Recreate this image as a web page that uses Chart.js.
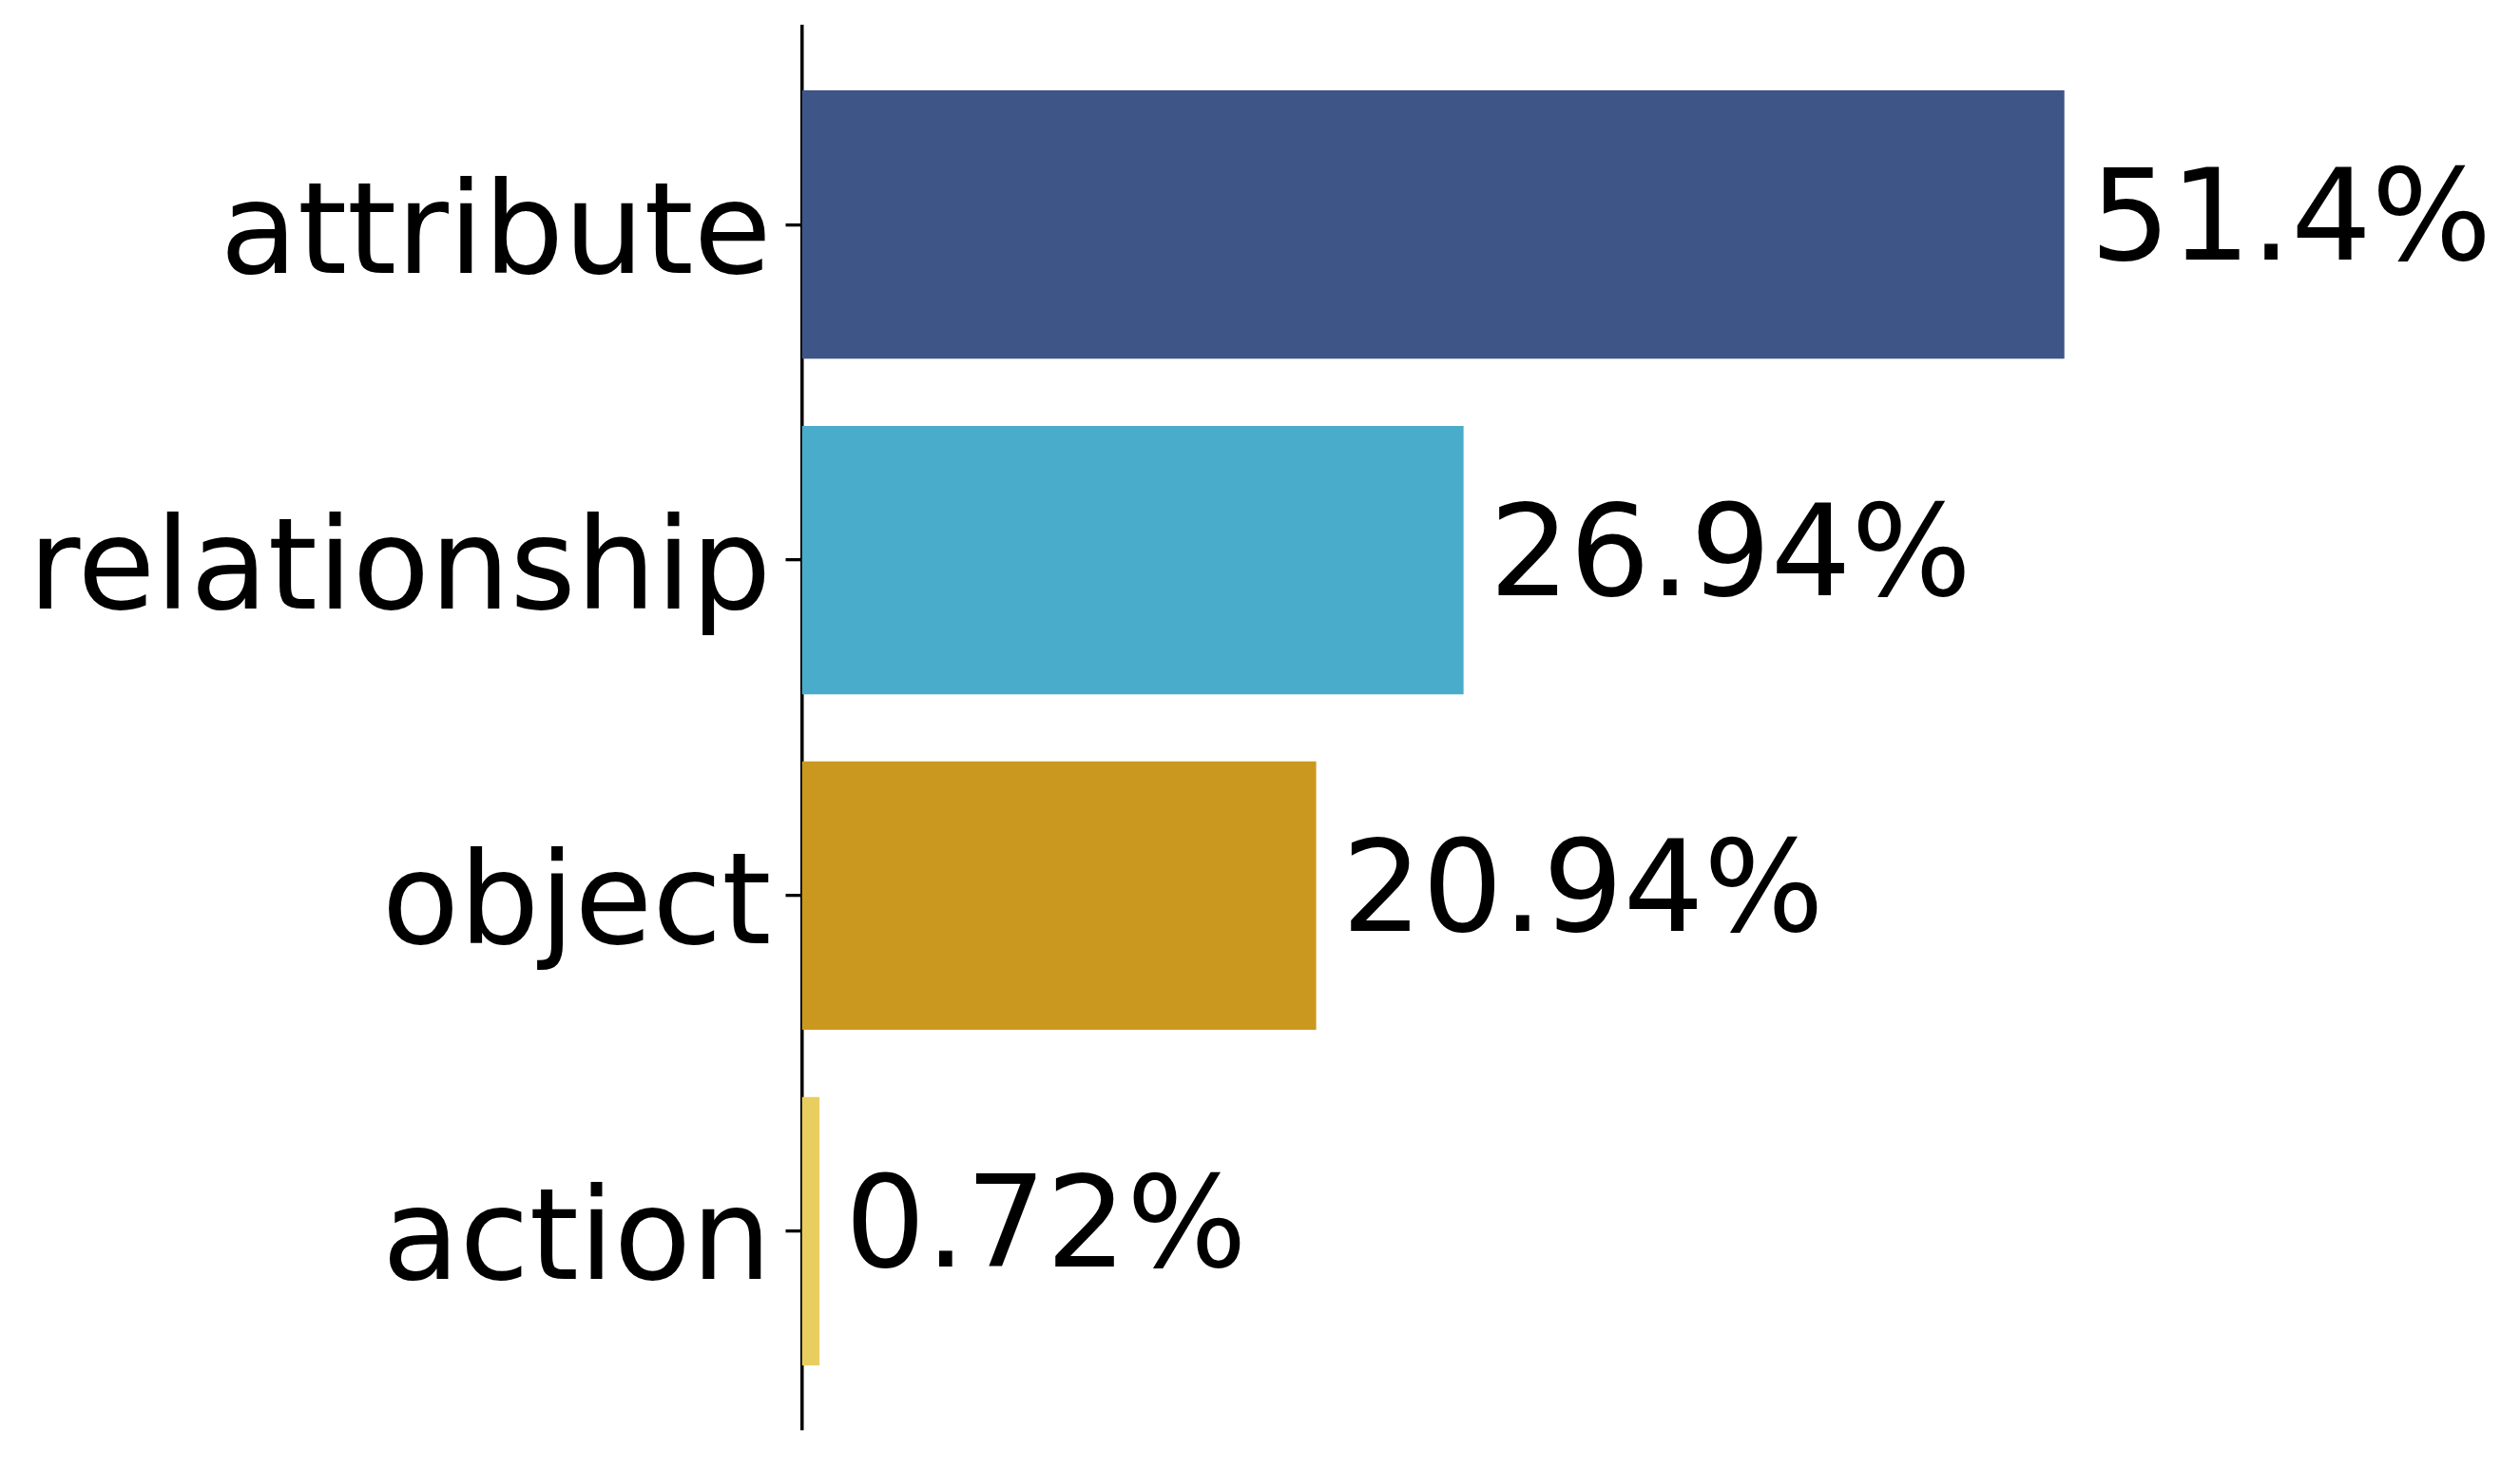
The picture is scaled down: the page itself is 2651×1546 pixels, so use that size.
<!DOCTYPE html>
<html>
<head>
<meta charset="utf-8">
<script src="https://cdn.jsdelivr.net/npm/chart.js@4.4.1/dist/chart.umd.min.js"></script>
<style>
    html, body { margin: 0; padding: 0; background: #ffffff; }
    canvas { display: block; }
</style>
</head>
<body>
<canvas id="shareChart" width="2651" height="1546"></canvas>
<script>
// Data
const categories = ['attribute', 'relationship', 'object', 'action'];
const shares = [51.4, 26.94, 20.94, 0.72];
const barColors = ['#3d5687', '#49acca', '#cb981f', '#e8ce5e'];

Chart.defaults.font.family = "'DejaVu Sans', 'Liberation Sans', sans-serif";
Chart.defaults.color = '#000000';

// Percent labels at the end of each bar
const valueLabels = {
    id: 'valueLabels',
    afterDatasetsDraw(chart) {
        const ctx = chart.ctx;
        const meta = chart.getDatasetMeta(0);
        ctx.save();
        ctx.font = "133px 'DejaVu Sans', sans-serif";
        ctx.fillStyle = '#000000';
        ctx.textAlign = 'left';
        ctx.textBaseline = 'alphabetic';
        meta.data.forEach((bar, i) => {
            ctx.fillText(`${shares[i]}%`, bar.x + 27, bar.y + 37);
        });
        ctx.restore();
    }
};

const ctx = document.getElementById('shareChart').getContext('2d');
new Chart(ctx, {
    type: 'bar',
    data: {
        datasets: [{
            data: shares.map((v, i) => ({ x: v, y: i })),
            backgroundColor: barColors,
            borderWidth: 0,
            categoryPercentage: 1,
            barPercentage: 0.8
        }]
    },
    options: {
        indexAxis: 'y',
        responsive: false,
        animation: false,
        devicePixelRatio: 1,
        layout: {
            padding: { left: 0, right: 416, top: 28, bottom: 43 }
        },
        plugins: {
            legend: { display: false },
            tooltip: { enabled: false }
        },
        scales: {
            x: {
                type: 'linear',
                display: false,
                min: 0,
                max: 53.85
            },
            y: {
                type: 'linear',
                reverse: true,
                offset: false,
                min: -0.59,
                max: 3.59,
                afterBuildTicks: axis => {
                    axis.ticks = categories.map((c, i) => ({ value: i }));
                },
                afterFit: axis => {
                    axis.width = 843.5;
                    axis.paddingTop = 0;
                    axis.paddingBottom = 0;
                },
                ticks: {
                    callback: v => categories[v],
                    font: { size: 133 },
                    color: '#000000',
                    padding: 15,
                    labelOffset: 16
                },
                grid: {
                    offset: false,
                    drawOnChartArea: false,
                    drawTicks: true,
                    tickLength: 17,
                    lineWidth: 3.3,
                    color: '#000000'
                },
                border: {
                    display: true,
                    color: '#000000',
                    width: 3.5
                }
            }
        }
    },
    plugins: [valueLabels]
});
</script>
</body>
</html>
